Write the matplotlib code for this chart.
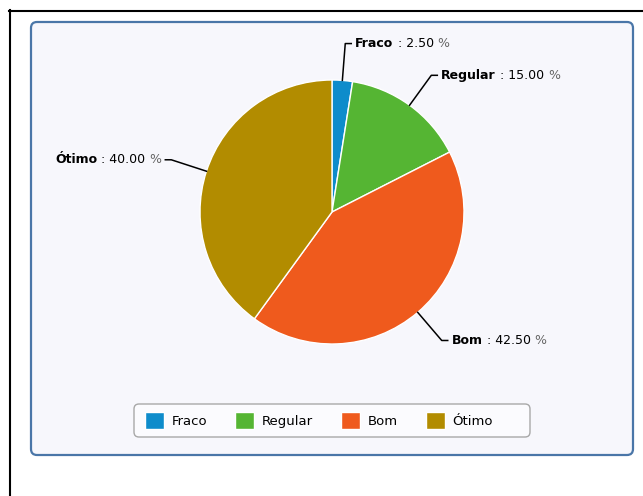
import matplotlib.pyplot as plt
from matplotlib.patches import FancyBboxPatch
from matplotlib.lines import Line2D
import numpy as np

# --- Data ---
categories = ['Fraco', 'Regular', 'Bom', 'Ótimo']
percents = [2.50, 15.00, 42.50, 40.00]
colors = ['#0e8ccb', '#55b533', '#ef5a1d', '#b28c00']

W, H = 643, 496
fig = plt.figure(figsize=(W / 100, H / 100), dpi=100)
ax = fig.add_axes([0, 0, 1, 1])

# screenshot border (black, top and left)
fig.add_artist(Line2D([9 / W, 1], [1 - 11 / H, 1 - 11 / H], color='black', lw=1.5))
fig.add_artist(Line2D([10 / W, 10 / W], [0, 1 - 10 / H], color='black', lw=1.5))

# chart panel
panel = FancyBboxPatch((31, H - 455), 602, 433, boxstyle='round,pad=0,rounding_size=6',
                       facecolor='#f7f7fc', edgecolor='#4a76a8', lw=1.6, zorder=1)
ax.add_patch(panel)

# --- Pie ---
cx, cy, r = 332, H - 212, 132
wedges, _ = ax.pie(percents, colors=colors, center=(cx, cy), radius=r,
                   startangle=90, counterclock=False, frame=True,
                   wedgeprops=dict(edgecolor='white', linewidth=1))
for w in wedges:
    w.set_zorder(3)
ax.set_xlim(0, W)
ax.set_ylim(0, H)
ax.set_aspect('equal')
ax.axis('off')

# --- Labels with leader lines ---
fs = 9
for w, name, p in zip(wedges, categories, percents):
    mid = np.deg2rad((w.theta1 + w.theta2) / 2)
    c, s = np.cos(mid), np.sin(mid)
    x0, y0 = cx + r * c, cy + r * s
    x1, y1 = cx + 1.28 * r * c, cy + 1.28 * r * s
    d = 1 if c >= 0 else -1
    x2 = x1 + 6 * d
    ax.plot([x0, x1, x2], [y0, y1, y1], color='black', lw=1.1, zorder=4)
    tx = x2 + 4 * d
    if d > 0:
        t1 = ax.text(tx, y1, name, fontsize=fs, fontweight='bold', va='center', ha='left', zorder=5)
        t2 = ax.annotate(' : %.2f ' % p, xy=(1, 0), xycoords=t1, va='bottom', ha='left', fontsize=fs)
        ax.annotate('%', xy=(1, 0), xycoords=t2, va='bottom', ha='left', fontsize=fs, color='#666666')
    else:
        t3 = ax.text(tx, y1, '%', fontsize=fs, va='center', ha='right', color='#666666', zorder=5)
        t2 = ax.annotate(' : %.2f ' % p, xy=(0, 0), xycoords=t3, va='bottom', ha='right', fontsize=fs)
        ax.annotate(name, xy=(0, 0), xycoords=t2, va='bottom', ha='right', fontsize=fs, fontweight='bold')

# --- Legend ---
leg_box = FancyBboxPatch((134, H - 437), 396, 33, boxstyle='round,pad=0,rounding_size=5',
                         facecolor='#fbfbfe', edgecolor='#a8a8a8', lw=1, zorder=5)
ax.add_patch(leg_box)
leg = ax.legend(wedges, categories, loc='center left', bbox_to_anchor=(145, H - 420.5),
                bbox_transform=ax.transData, ncol=4, frameon=False, borderpad=0,
                borderaxespad=0, handlelength=1.44, handleheight=1.5,
                columnspacing=2.1, handletextpad=0.6, fontsize=9.5)
leg.set_zorder(6)

fig.savefig('out.png', dpi=100)
